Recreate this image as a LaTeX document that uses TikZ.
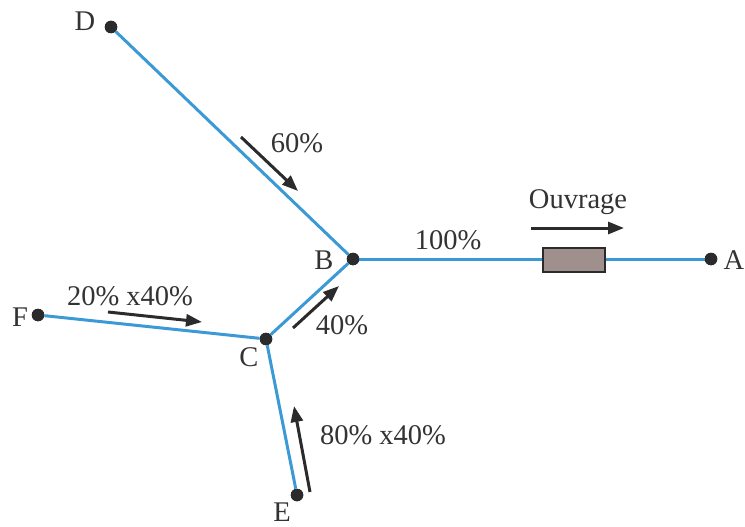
\documentclass[tikz,border=0pt]{standalone}
\usepackage{fontspec}
\setmainfont{Liberation Serif}
\usetikzlibrary{arrows.meta}
\definecolor{pipe}{HTML}{3B9AD6}
\definecolor{ink}{HTML}{2B2B2E}
\definecolor{txt}{HTML}{333333}
\definecolor{box}{HTML}{A0908D}
\begin{document}
\begin{tikzpicture}[x=1pt,y=-1pt,
  pipeline/.style={draw=pipe,line width=3pt},
  dot/.style={circle,fill=ink,inner sep=0pt,minimum size=12.5pt},
  lbl/.style={text=txt,font=\fontsize{28.5}{32}\selectfont,inner sep=0pt},
  flow/.style={draw=ink,line width=3pt,-{Triangle[length=16pt,width=12pt]}}]
\useasboundingbox (0,0) rectangle (745,527);
\node[dot] (D) at (111,27) {};
\node[dot] (B) at (353,259) {};
\node[dot] (A) at (711,259) {};
\node[dot] (C) at (266,339) {};
\node[dot] (F) at (38,315) {};
\node[dot] (E) at (297,495) {};
\node[draw=ink,line width=1.3pt,fill=box,minimum width=62pt,minimum height=24pt,inner sep=0pt] (R) at (574,260) {};
\draw[pipeline] (D) -- (B);
\draw[pipeline] (B) -- (B -| R.west);
\draw[pipeline] (A -| R.east) -- (A);
\draw[pipeline] (C) -- (B);
\draw[pipeline] (F) -- (C);
\draw[pipeline] (E) -- (C);
\node[dot] at (D) {};
\node[dot] at (B) {};
\node[dot] at (A) {};
\node[dot] at (C) {};
\node[dot] at (F) {};
\node[dot] at (E) {};
% labels
\node[lbl] (lD) at (85,21) {D};
\node[lbl] (lB) at (324,260) {B};
\node[lbl] (lA) at (734,260) {A};
\node[lbl] (lC) at (249,357) {C};
\node[lbl] (lF) at (20,317) {F};
\node[lbl] (lE) at (282,512) {E};
\node[lbl] (t60) at (297,143) {60\%};
\node[lbl] (t100) at (448,240) {100\%};
\node[lbl] (tO) at (578,202) {Ouvrage};
\node[lbl] (t20) at (130,296) {20\% x40\%};
\node[lbl] (t40) at (342,325) {40\%};
\node[lbl] (t80) at (383,435) {80\% x40\%};
% flow arrows
\coordinate (a1s) at (241,137); \coordinate (a1e) at (298,191);
\coordinate (a2s) at (531,228); \coordinate (a2e) at (624,228);
\coordinate (a3s) at (108,312); \coordinate (a3e) at (202,322);
\coordinate (a4s) at (293,328); \coordinate (a4e) at (339,286);
\coordinate (a5s) at (310,492); \coordinate (a5e) at (294,406);
\draw[flow] (a1s) -- (a1e);
\draw[flow] (a2s) -- (a2e);
\draw[flow] (a3s) -- (a3e);
\draw[flow] (a4s) -- (a4e);
\draw[flow] (a5s) -- (a5e);
\end{tikzpicture}
\end{document}
